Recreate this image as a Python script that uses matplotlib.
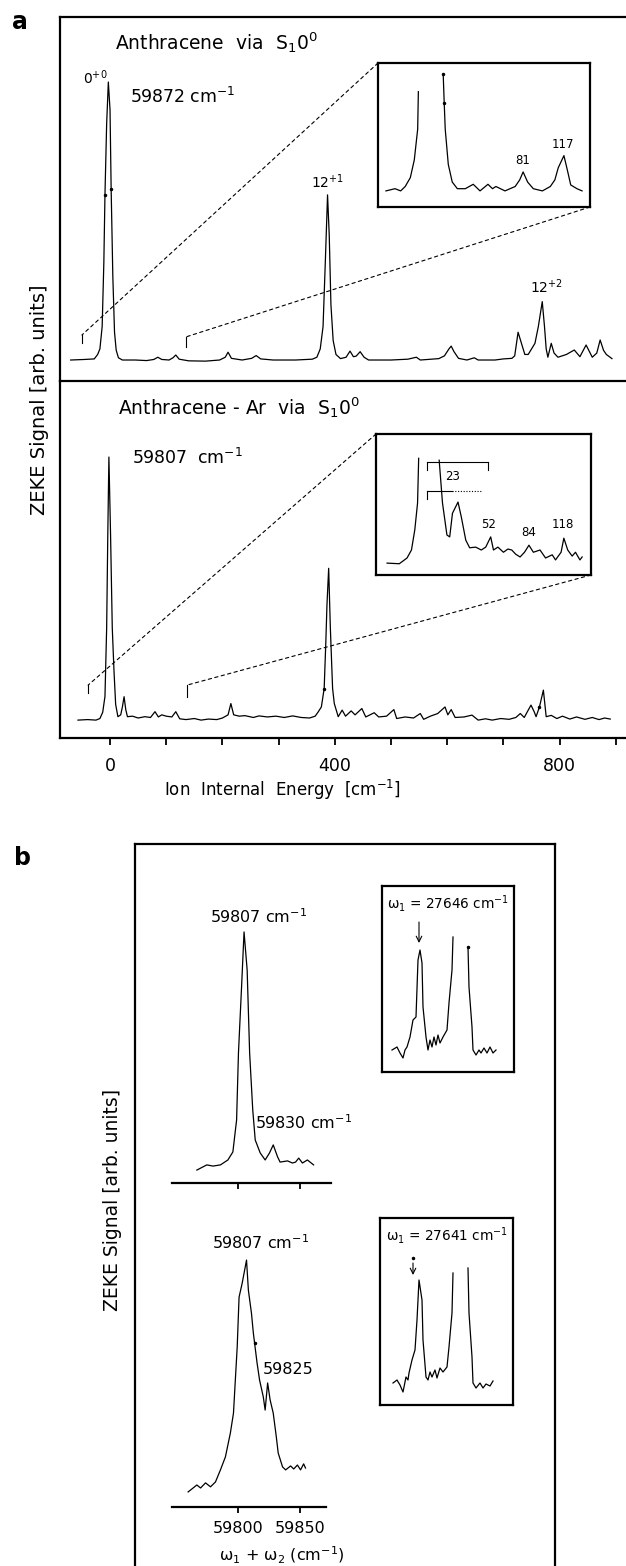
import numpy as np
import matplotlib
matplotlib.use("Agg")
import matplotlib.pyplot as plt
from matplotlib.patches import ConnectionPatch

nan = np.nan

# ---------------- values ----------------
# (a) upper trace: anthracene via S1 0^0, ion internal energy (cm-1), signal with 0+0 = 1
anth_e = [-70, -45, -28, -22, -18, -14, -11, -9, -6, -3, 0, 2, 5, 8, 11, 15, 22,
          45, 65, 78, 85, 92, 105, 112, 117, 123, 140, 170, 195, 205, 210, 216,
          235, 252, 260, 268, 290, 330, 360, 368, 374, 379, 383, 387, 390, 393,
          397, 402, 410, 420, 427, 433, 438, 445, 452, 460, 500, 530, 545, 552,
          585, 595, 603, 607, 612, 620, 635, 648, 655, 685, 700, 715, 720, 726,
          732, 738, 744, 756, 762, 769, 773, 776, 779, 785, 790, 797, 812, 826,
          836, 847, 858, 866, 872, 878, 883, 893]
anth_z = [0.0, 0.002, 0.004, 0.02, 0.04, 0.12, 0.35, 0.594, 0.85, 1.0, 0.9, 0.615, 0.3, 0.1, 0.035, 0.008, 0.0,
          0.0, -0.002, 0.002, 0.01, 0.002, 0.0, 0.008, 0.018, 0.003, -0.003, -0.004, 0.0, 0.01, 0.028, 0.006,
          0.0, 0.006, 0.016, 0.004, 0.0, 0.0, 0.003, 0.01, 0.04, 0.12, 0.35, 0.594, 0.45, 0.2,
          0.07, 0.02, 0.005, 0.01, 0.032, 0.012, 0.014, 0.03, 0.01, 0.0, 0.0, 0.003, 0.01, 0.0,
          0.005, 0.015, 0.04, 0.05, 0.03, 0.006, 0.0, 0.008, 0.0, 0.0, 0.004, 0.006, 0.015, 0.10,
          0.06, 0.02, 0.02, 0.06, 0.12, 0.21, 0.12, 0.04, 0.01, 0.06, 0.025, 0.01, 0.02, 0.036,
          0.012, 0.054, 0.01, 0.025, 0.072, 0.035, 0.02, 0.005]
anth_dot_e = [-9, 2]
anth_dot_z = [0.594, 0.615]

# (a) lower trace: anthracene-Ar via S1 0^0
ar_e = [-57, -40, -25, -18, -13, -9, -6, -4, -2, 1, 4, 7, 10, 14,
        19, 22, 25, 28, 31, 40, 50, 62, 72, 80, 86, 92, 100, 110,
        117, 124, 135, 150, 162, 175, 190, 200, 210, 215, 220, 230, 240, 255,
        265, 280, 295, 310, 325, 340, 355, 365, 370, 376, 381, 384, 386, 389,
        392, 396, 399, 406, 413, 419, 429, 436, 448, 455, 470, 478, 492, 505,
        510, 525, 540, 552, 558, 570, 583, 596, 601, 607, 614, 630, 644, 655,
        668, 680, 695, 710, 722, 730, 737, 742, 749, 755, 758, 764, 771, 776,
        785, 795, 805, 818, 830, 845, 858, 870, 880, 890]
ar_z = [0.0, 0.002, 0.0, 0.006, 0.03, 0.09, 0.35, 0.7, 1.0, 0.7, 0.35, 0.19, 0.06, 0.013,
        0.02, 0.05, 0.089, 0.04, 0.013, 0.015, 0.008, 0.013, 0.01, 0.032, 0.012, 0.02, 0.015, 0.012,
        0.032, 0.005, 0.002, 0.006, 0.0, 0.004, 0.002, 0.008, 0.02, 0.063, 0.02, 0.015, 0.017, 0.01,
        0.016, 0.012, 0.015, 0.01, 0.016, 0.01, 0.008, 0.015, 0.03, 0.05, 0.12, 0.3, 0.44, 0.577,
        0.35, 0.12, 0.063, 0.013, 0.038, 0.015, 0.035, 0.02, 0.044, 0.012, 0.028, 0.012, 0.015, 0.04,
        0.006, 0.012, 0.008, 0.025, 0.003, 0.015, 0.025, 0.05, 0.02, 0.04, 0.01, 0.012, 0.019, 0.0,
        0.005, 0.0, 0.006, 0.003, 0.01, 0.025, 0.01, 0.03, 0.057, 0.03, 0.013, 0.05, 0.114, 0.013,
        0.018, 0.006, 0.015, 0.004, 0.012, 0.003, 0.01, 0.002, 0.008, 0.004]
ar_dot_e = [381, 764]
ar_dot_z = [0.12, 0.05]

# (a) insets: expanded low energy region (nan = top of origin band cut off)
ins_anth_e = [-40, -32, -27, -23, -18.5, -15, -12, -11.4, 0, 10.5, 11.4, 12.3, 15, 18.5,
              23, 30, 37, 43, 50, 54, 57, 65, 74, 78, 81, 85, 90, 98,
              105, 109, 112, 114, 117, 120, 123, 128.5, 133]
ins_anth_z = [0.0, 0.001, 0.0, 0.002, 0.006, 0.014, 0.028, 0.045, nan, 0.053, 0.040, 0.028, 0.012, 0.004,
              0.001, 0.001, 0.003, 0.0, 0.003, 0.001, 0.002, 0.0, 0.002, 0.005, 0.0086, 0.004, 0.001, 0.0,
              0.002, 0.005, 0.0105, 0.0127, 0.016, 0.0095, 0.0027, 0.001, 0.0]
ins_anth_dot_e = [10.5, 11.4]
ins_anth_dot_z = [0.053, 0.040]

ins_ar_e = [-42, -31, -24, -20, -17, -14.5, -13.5, 0, 5, 8, 12, 14.5, 17, 22,
            25, 29, 32.5, 38, 43, 47, 51.5, 54, 58, 63, 67, 70.5, 74, 78,
            82, 86, 90, 96, 101, 107, 110, 115, 117.5, 121, 125, 128, 132, 134]
ins_ar_z = [-0.008, -0.009, 0.0, 0.0125, 0.044, 0.086, 0.156, nan, 0.153, 0.086, 0.036, 0.033, 0.070, 0.0875,
            0.064, 0.028, 0.016, 0.017, 0.0125, 0.017, 0.033, 0.0125, 0.017, 0.009, 0.014, 0.0125, 0.006, 0.0016,
            0.009, 0.02, 0.009, 0.0125, 0.0, 0.005, -0.003, 0.009, 0.031, 0.0125, 0.003, 0.009, -0.003, 0.0016]
# progression bracket "23" in the Ar inset
br_upper = [-6, 49]
br_lower = [-6, 17]
br_lower_dotted = [17, 43]
br_upper_z, br_lower_z = 0.15, 0.105

# (b) omega1 + omega2 (cm-1)
b1_w = [59767, 59775, 59780, 59786, 59792, 59796, 59799, 59800.5, 59803, 59805, 59807.5, 59809.5,
        59812, 59814, 59818, 59822, 59825.5, 59828.5, 59832, 59834, 59840, 59844, 59846.5,
        59849, 59852, 59856, 59861]
b1_z = [-0.013, 0.009, 0.004, 0.009, 0.03, 0.064, 0.2, 0.485, 0.766, 1.0, 0.838, 0.485,
        0.243, 0.115, 0.06, 0.03, 0.06, 0.094, 0.043, 0.021, 0.026, 0.017, 0.021,
        0.038, 0.017, 0.03, 0.009]
b2_w = [59760, 59764, 59767, 59770, 59774, 59778, 59782, 59786, 59790, 59794, 59796.5, 59798,
        59799.5, 59801, 59803.5, 59807, 59808.5, 59811, 59812.5, 59813.5, 59815.5, 59817.5,
        59820.5, 59822, 59824, 59826, 59828.5, 59831, 59832.5, 59836, 59838.5, 59842.5,
        59845, 59848, 59850.5, 59853, 59854.5]
b2_z = [0.0, 0.017, 0.03, 0.017, 0.039, 0.022, 0.043, 0.095, 0.151, 0.254, 0.34, 0.483,
        0.625, 0.84, 0.90, 1.0, 0.87, 0.77, 0.685, 0.642, 0.556, 0.483,
        0.41, 0.353, 0.47, 0.397, 0.34, 0.237, 0.168, 0.108, 0.095, 0.112,
        0.099, 0.116, 0.095, 0.121, 0.103]
b2_dot_w = [59813.5]
b2_dot_z = [0.642]

# (b) small insets, omega1 scans (arbitrary position scale, nan = clipped band)
bi1_x = [10, 15, 18, 21, 23, 25, 28, 31, 34, 36, 38, 40, 41, 44, 46, 48, 50, 52, 54, 56, 58, 61,
         65, 67, 70, 71, 78, 86, 87, 90, 91, 94, 97, 99, 102, 105, 108, 111, 114]
bi1_z = [0.03, 0.06, 0.0, -0.05, 0.03, 0.06, 0.16, 0.33, 0.36, 0.93, 1.03, 0.90, 0.46, 0.16, 0.03,
         0.13, 0.06, 0.16, 0.08, 0.18, 0.10, 0.16, 0.23, 0.50, 0.83, 1.16, nan, 1.06, 0.66, 0.26,
         0.03, -0.02, 0.03, 0.0, 0.05, 0.0, 0.06, 0.0, 0.03]
bi2_x = [13, 17, 20, 23, 26, 28, 29, 32, 35, 37, 39, 42, 43, 46, 48, 50, 52, 55, 57, 60, 63,
         67, 69, 72, 73, 80, 88, 89, 92, 93, 96, 100, 103, 106, 110, 113]
bi2_z = [0.0, 0.03, -0.02, -0.09, 0.06, 0.03, 0.10, 0.23, 0.33, 0.63, 1.03, 0.83, 0.43, 0.06, 0.03,
         0.11, 0.06, 0.13, 0.05, 0.15, 0.11, 0.16, 0.36, 0.70, 1.10, nan, 1.15, 0.70, 0.26, 0.0,
         -0.05, 0.0, -0.05, -0.01, -0.03, 0.02]

a_ticks = [0, 100, 200, 300, 400, 500, 600, 700, 800, 900]
a_ticklabels = ['0', '', '', '', '400', '', '', '', '800', '']
b_ticks = [59800, 59850]

# ---------------- figure ----------------
plt.rcParams['font.family'] = ['DejaVu Sans']
plt.rcParams['mathtext.default'] = 'regular'

W, H = 626, 1566
fig = plt.figure(figsize=(W / 100, H / 100), dpi=100)


def box(x0, y0, x1, y1):
    # axes from pixel corners, origin top left
    return fig.add_axes([x0 / W, 1 - y1 / H, (x1 - x0) / W, (y1 - y0) / H])


def ftext(x, y, s, **kw):
    kw.setdefault('ha', 'center')
    kw.setdefault('va', 'center')
    fig.text(x / W, 1 - y / H, s, **kw)


LW_FRAME = 1.6
LW_DATA = 0.9


def bare(ax, keep=('left', 'right', 'top', 'bottom')):
    ax.set_xticks([])
    ax.set_yticks([])
    ax.patch.set_alpha(0)
    for k, s in ax.spines.items():
        s.set_visible(k in keep)
        s.set_linewidth(LW_FRAME)


# ---- panel a, upper ----
ax1 = box(60, 17, 626, 381)
ax1.plot(anth_e, anth_z, color='k', lw=LW_DATA)
ax1.plot(anth_dot_e, anth_dot_z, 'k.', ms=3)
ax1.set_xlim(-89, 918)
ax1.set_ylim(-0.0755, 1.234)
bare(ax1, keep=('left', 'top', 'bottom'))

# ---- panel a, lower ----
ax2 = box(60, 381, 626, 738)
ax2.plot(ar_e, ar_z, color='k', lw=LW_DATA)
ax2.plot(ar_dot_e, ar_dot_z, 'k.', ms=3)
ax2.set_xlim(-89, 918)
ax2.set_ylim(-0.068, 1.289)
bare(ax2, keep=('left', 'bottom'))
ax2.set_xticks(a_ticks)
ax2.set_xticklabels(a_ticklabels, fontsize=12.5)
ax2.tick_params(axis='x', direction='out', length=5, width=1.3, pad=9)

# brackets + dashed guide lines to insets
for ax, lo, hi in [(ax1, (-50, 0.09, 0.061), (135, 0.083, 0.047)),
                   (ax2, (-39, 0.133, 0.103), (137, 0.133, 0.087))]:
    for e, top, bot in (lo, hi):
        ax.plot([e, e], [top, bot], color='k', lw=0.8)

in1 = box(378, 63, 590, 207)
in1.plot(ins_anth_e, ins_anth_z, color='k', lw=LW_DATA)
in1.plot(ins_anth_dot_e, ins_anth_dot_z, 'k.', ms=3)
in1.set_xlim(-47, 140)
in1.set_ylim(-0.0073, 0.058)
bare(in1)

in2 = box(376, 434, 591, 575)
in2.plot(ins_ar_e, ins_ar_z, color='k', lw=LW_DATA)
in2.set_xlim(-52, 142)
in2.set_ylim(-0.0266, 0.194)
bare(in2)
in2.plot(br_upper, [br_upper_z] * 2, color='k', lw=0.8)
in2.plot(br_lower, [br_lower_z] * 2, color='k', lw=0.8)
in2.plot(br_lower_dotted, [br_lower_z] * 2, color='k', lw=0.8, ls=(0, (1, 1.5)))
for e, z in [(br_upper[0], br_upper_z), (br_upper[1], br_upper_z), (br_lower[0], br_lower_z)]:
    in2.plot([e, e], [z, z - 0.0125], color='k', lw=0.8)
in2.text(17, 0.127, '23', fontsize=8.5, ha='center', va='center')

for ax, ins, lo, hi in [(ax1, in1, (-50, 0.09), (135, 0.083)),
                        (ax2, in2, (-39, 0.133), (137, 0.133))]:
    for xyB, corner in [(lo, (0, 1)), (hi, (1, 0))]:
        con = ConnectionPatch(xyA=corner, coordsA=ins.transAxes, xyB=xyB, coordsB=ax.transData,
                              color='k', lw=0.8, linestyle=(0, (3, 3)))
        fig.add_artist(con)

# panel a texts
ftext(20, 22, 'a', fontsize=17, fontweight='bold')
ftext(115, 43, 'Anthracene  via  S$_1$0$^0$', fontsize=13.5, ha='left')
ftext(95, 78, '0$^{+0}$', fontsize=10)
ftext(130, 97, '59872 cm$^{-1}$', fontsize=12.5, ha='left')
ftext(328, 182, '12$^{+1}$', fontsize=10)
ftext(547, 287, '12$^{+2}$', fontsize=10)
ftext(523, 160, '81', fontsize=8.5)
ftext(563, 145, '117', fontsize=8.5)
ftext(118, 408, 'Anthracene - Ar  via  S$_1$0$^0$', fontsize=13.5, ha='left')
ftext(132, 458, '59807  cm$^{-1}$', fontsize=12.5, ha='left')
ftext(489, 525, '52', fontsize=8.5)
ftext(529, 533, '84', fontsize=8.5)
ftext(563, 525, '118', fontsize=8.5)
ftext(40, 400, 'ZEKE Signal [arb. units]', fontsize=14, rotation=90)
ftext(282, 790, 'Ion  Internal  Energy  [cm$^{-1}$]', fontsize=12)

# ---- panel b ----
frame = box(135, 844, 555, 1566)
bare(frame, keep=('left', 'top', 'right'))

b1 = box(172, 880, 331, 1183)
b1.plot(b1_w, b1_z, color='k', lw=LW_DATA)
b1.set_xlim(59747, 59875)
b1.set_ylim(-0.068, 1.221)
bare(b1, keep=('bottom',))
b1.set_xticks(b_ticks)
b1.set_xticklabels([])
b1.tick_params(axis='x', direction='out', length=4, width=1.3)

b2 = box(172, 1200, 326, 1507)
b2.plot(b2_w, b2_z, color='k', lw=LW_DATA)
b2.plot(b2_dot_w, b2_dot_z, 'k.', ms=3)
b2.set_xlim(59747, 59871)
b2.set_ylim(-0.065, 1.259)
bare(b2, keep=('bottom',))
b2.set_xticks(b_ticks)
b2.set_xticklabels([str(t) for t in b_ticks], fontsize=11.5)
b2.tick_params(axis='x', direction='out', length=4, width=1.3, pad=6)

bi1 = box(382, 886, 514, 1072)
bi1.plot(bi1_x, bi1_z, color='k', lw=LW_DATA)
bi1.plot([86], [1.06], 'k.', ms=3)
bi1.set_xlim(0, 132)
bi1.set_ylim(-0.19, 1.67)
bare(bi1)
bi1.annotate('', xy=(37, 1.10), xytext=(37, 1.31),
             arrowprops=dict(arrowstyle='->', lw=0.8, color='k', shrinkA=0, shrinkB=0))

bi2 = box(380, 1218, 513, 1405)
bi2.plot(bi2_x, bi2_z, color='k', lw=LW_DATA)
bi2.plot([33], [1.25], 'k.', ms=3)
bi2.set_xlim(0, 133)
bi2.set_ylim(-0.22, 1.65)
bare(bi2)
bi2.annotate('', xy=(33, 1.08), xytext=(33, 1.20),
             arrowprops=dict(arrowstyle='->', lw=0.8, color='k', shrinkA=0, shrinkB=0))

ftext(22, 858, 'b', fontsize=17, fontweight='bold')
ftext(259, 917, '59807 cm$^{-1}$', fontsize=11.5)
ftext(304, 1123, '59830 cm$^{-1}$', fontsize=11.5)
ftext(448, 903, 'ω$_1$ = 27646 cm$^{-1}$', fontsize=9.8)
ftext(261, 1243, '59807 cm$^{-1}$', fontsize=11.5)
ftext(288, 1370, '59825', fontsize=11.5)
ftext(447, 1235, 'ω$_1$ = 27641 cm$^{-1}$', fontsize=9.8)
ftext(282, 1555, 'ω$_1$ + ω$_2$ (cm$^{-1}$)', fontsize=11.5)
ftext(112, 1200, 'ZEKE Signal [arb. units]', fontsize=13.5, rotation=90)

fig.savefig('out.png', dpi=100)
